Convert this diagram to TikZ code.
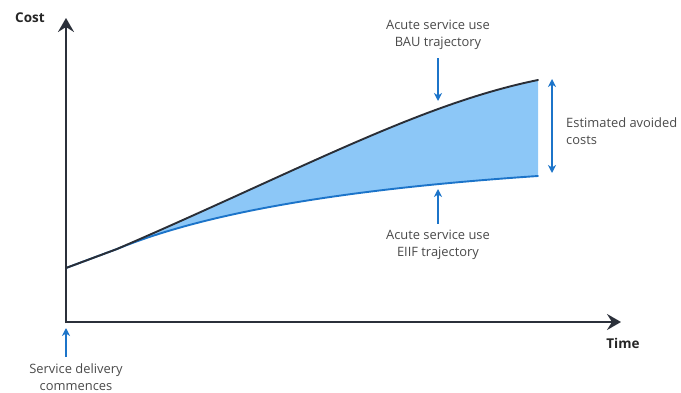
\documentclass[tikz,border=0pt]{standalone}
\usepackage{fontspec}
\setmainfont{Open Sans}
\usetikzlibrary{arrows.meta,calc}
\definecolor{axisgray}{HTML}{2B303A}
\definecolor{bauline}{HTML}{2A2E36}
\definecolor{eiifblue}{HTML}{1C74C9}
\definecolor{gapfill}{HTML}{8CC7F7}
\definecolor{labelgray}{HTML}{4A4A4A}
\tikzset{
  axisline/.style={draw=axisgray, line width=2.4pt, -{Stealth[length=14pt, width=16pt, inset=5pt]}},
  pointer/.style={draw=eiifblue, line width=1.3pt, -{Stealth[length=8pt, width=8pt, inset=2.5pt]}},
  twoway/.style={draw=eiifblue, line width=1.3pt, {Stealth[length=8pt, width=8pt, inset=2.5pt]}-{Stealth[length=8pt, width=8pt, inset=2.5pt]}},
  note/.style={text=labelgray, font=\fontsize{12.9}{17.5}\selectfont, align=center, inner sep=0pt},
  axislabel/.style={text=black!85, font=\fontsize{13.5}{15}\selectfont\bfseries, inner sep=0pt}
}
\begin{document}
\begin{tikzpicture}[x=1pt, y=-1pt]
\useasboundingbox (0,0) rectangle (681,393);
% axes end points
\coordinate (O) at (66,322);
\coordinate (ytop) at (66,18);
\coordinate (xend) at (621,322);
% trajectory points
\coordinate (s0) at (66,268);
\coordinate (split) at (117,249);
\coordinate (bauend) at (538,80);
\coordinate (eiifend) at (538,176);
% shaded gap between the two trajectories
\fill[gapfill] (split) .. controls (300,170) and (420,104) .. (bauend)
  -- (eiifend) .. controls (330,190) and (200,215) .. (split) -- cycle;
% EIIF trajectory
\draw[eiifblue, line width=1.9pt, line cap=round] (s0) -- (split) .. controls (200,215) and (330,190) .. (eiifend);
% BAU trajectory
\draw[bauline, line width=1.9pt, line cap=round, line join=round] (s0) -- (split) .. controls (300,170) and (420,104) .. (bauend);
% axes
\draw[axisline] ($(O)+(0,1.2)$) -- (ytop);
\draw[axisline] ($(O)+(-1.2,0)$) -- (xend);
\node[axislabel] (cost) at (30,18) {Cost};
\node[axislabel] (time) at (623,343) {Time};
% BAU label and pointer
\node[note] (bau) at (438,35) {Acute service use\\BAU trajectory};
\coordinate (bautip) at (438,101);
\draw[pointer] ($(bau.south)+(0,8)$) -- (bautip);
% EIIF label and pointer
\node[note] (eiif) at (438,245) {Acute service use\\EIIF trajectory};
\coordinate (eiiftip) at (438,189);
\draw[pointer] ($(eiif.north)+(0,-6)$) -- (eiiftip);
% avoided costs
\coordinate (gaptop) at (552,79);
\coordinate (gapbot) at (552,173);
\draw[twoway] (gaptop) -- (gapbot);
\node[note, align=left, anchor=west] (avoided) at (566,131) {Estimated avoided\\costs};
% start of delivery
\node[note] (start) at (76,377) {Service delivery\\commences};
\coordinate (starttip) at (66,328);
\draw[pointer] ($(start.north)+(-10,-6)$) -- (starttip);
\end{tikzpicture}
\end{document}
